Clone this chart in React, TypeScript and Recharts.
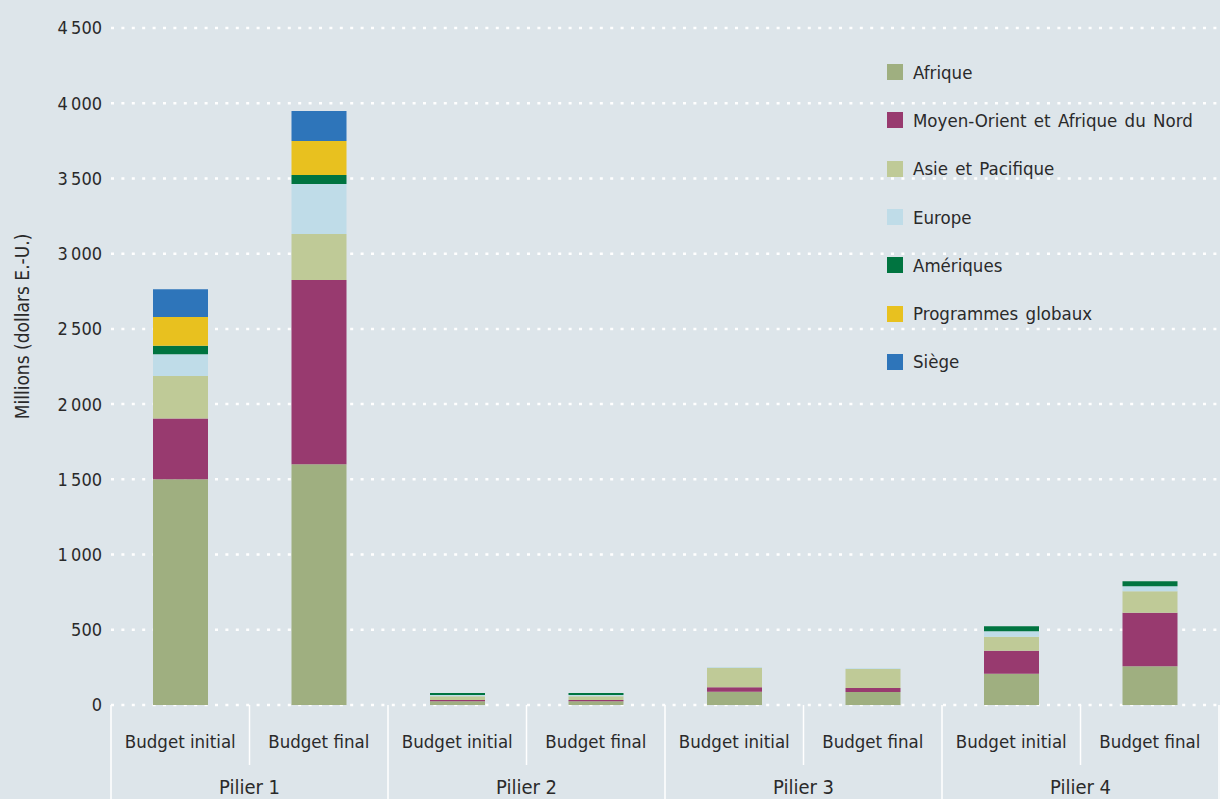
import { BarChart, Bar, XAxis, YAxis, CartesianGrid } from 'recharts'

const categories = [
  'Budget initial', 'Budget final',
  'Budget initial', 'Budget final',
  'Budget initial', 'Budget final',
  'Budget initial', 'Budget final',
]
const pillars = ['Pilier 1', 'Pilier 2', 'Pilier 3', 'Pilier 4']

// millions de dollars E.-U.
const afrique     = [1500, 1600, 25, 25, 88, 86, 208, 257]
const moyenOrient = [405, 1225, 8, 8, 30, 27, 153, 357]
const asie        = [282, 306, 25, 25, 130, 127, 93, 142]
const europe      = [144, 332, 9, 9, 4, 4, 36, 33]
const ameriques   = [57, 60, 13, 13, 0, 0, 33, 33]
const programmes  = [191, 226, 0, 0, 0, 0, 0, 0]
const siege       = [184, 199, 0, 0, 0, 0, 0, 0]

const yTicks = [0, 500, 1000, 1500, 2000, 2500, 3000, 3500, 4000, 4500]

const SERIES = [
  { key: 'afrique',     name: 'Afrique',                          color: '#9FAF80' },
  { key: 'moyenOrient', name: 'Moyen-Orient et Afrique du Nord',  color: '#983A6F' },
  { key: 'asie',        name: 'Asie et Pacifique',                color: '#BFCA97' },
  { key: 'europe',      name: 'Europe',                           color: '#BFDCE8' },
  { key: 'ameriques',   name: 'Amériques',                        color: '#007440' },
  { key: 'programmes',  name: 'Programmes globaux',               color: '#E8C11F' },
  { key: 'siege',       name: 'Siège',                            color: '#2E75BA' },
]

const data = categories.map((c, i) => ({
  cat: c,
  pillar: pillars[Math.floor(i / 2)],
  afrique: afrique[i],
  moyenOrient: moyenOrient[i],
  asie: asie[i],
  europe: europe[i],
  ameriques: ameriques[i],
  programmes: programmes[i],
  siege: siege[i],
}))

const W = 1220
const H = 799
const Y_W = 111
const M_RIGHT = 1
const BAND = (W - Y_W - M_RIGHT) / categories.length
const FONT = '"DejaVu Sans Condensed", "Liberation Sans Narrow", "Liberation Sans", sans-serif'
const BG = '#DDE5EA'
const TXT = '#2a2a2a'

const fmt = (v: number) => String(v).replace(/\B(?=(\d{3})+(?!\d))/g, '\u2009')

const XTick = (props: any) => {
  const { x, y, payload } = props
  const i = payload.index
  const left = x - BAND / 2
  const groupStart = i % 2 === 0
  return (
    <g>
      <line x1={left} x2={left} y1={y} y2={groupStart ? H : y + 60} stroke="#fff" strokeWidth={1.5} />
      {i === categories.length - 1 && (
        <line x1={x + BAND / 2} x2={x + BAND / 2} y1={y} y2={H} stroke="#fff" strokeWidth={1.5} />
      )}
      <text x={x} y={y + 43} textAnchor="middle" fontSize={18.5} fill={TXT} fontFamily={FONT}>{payload.value}</text>
      {!groupStart && (
        <text x={left} y={y + 89} textAnchor="middle" fontSize={20} fill={TXT} fontFamily={FONT}>
          {pillars[Math.floor(i / 2)]}
        </text>
      )}
    </g>
  )
}

const YLabel = (props: any) => {
  const { viewBox } = props
  const cx = 22
  const cy = viewBox.y + viewBox.height / 2 - 40
  return (
    <text x={cx} y={cy} transform={`rotate(-90, ${cx}, ${cy})`} textAnchor="middle" dominantBaseline="central"
      fontSize={19} fill={TXT} fontFamily={FONT}>
      Millions (dollars E.-U.)
    </text>
  )
}

export default function App() {
  return (
    <div style={{ position: 'absolute', left: 0, top: 0, width: W, height: H, background: BG, overflow: 'hidden' }}>
      <BarChart width={W} height={H} data={data} margin={{ top: 28, right: M_RIGHT, left: 0, bottom: 0 }}>
        <CartesianGrid vertical={false} stroke="#fff" strokeWidth={2.5} strokeDasharray="3 7.4" />
        <XAxis dataKey="cat" interval={0} height={94} axisLine={false} tickLine={false} tickSize={0} tickMargin={0} tick={<XTick />} />
        <YAxis
          width={Y_W}
          domain={[0, 4500]}
          ticks={yTicks}
          tickFormatter={fmt}
          axisLine={false}
          tickLine={false}
          tickSize={7}
          tick={{ fontSize: 18, fill: TXT, fontFamily: FONT }}
          label={<YLabel />}
        />
        {SERIES.map(s => (
          <Bar key={s.key} dataKey={s.key} name={s.name} stackId="a" fill={s.color} barSize={55} isAnimationActive={false} />
        ))}
      </BarChart>
      <div style={{ position: 'absolute', left: 887, top: 48, fontFamily: FONT }}>
        {SERIES.map(s => (
          <div key={s.key} style={{ display: 'flex', alignItems: 'center', height: 48.3 }}>
            <div style={{ width: 16, height: 16, background: s.color, marginRight: 10 }} />
            <span style={{ fontSize: 18.5, color: TXT, wordSpacing: 2, whiteSpace: 'nowrap' }}>{s.name}</span>
          </div>
        ))}
      </div>
    </div>
  )
}
